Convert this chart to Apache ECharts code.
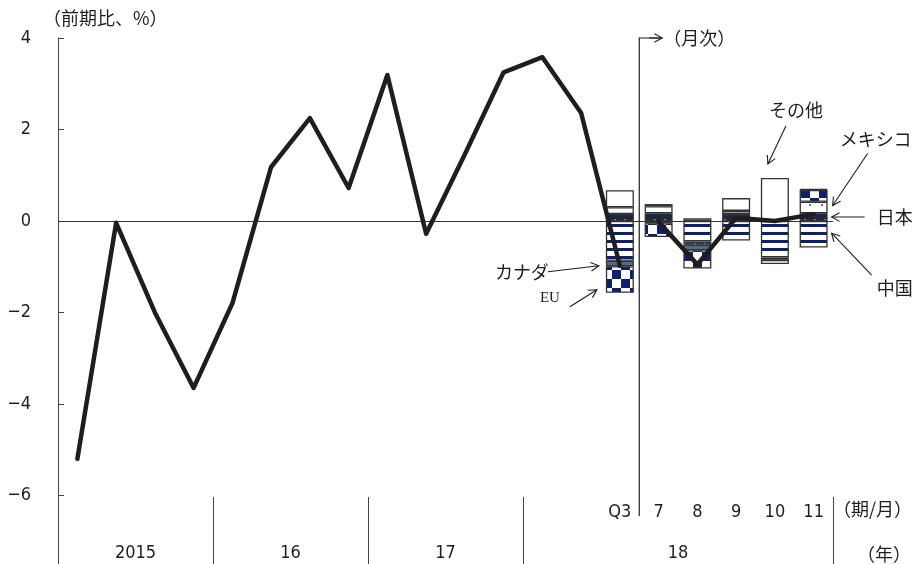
<!DOCTYPE html>
<html><head><meta charset="utf-8">
<script src="https://cdn.jsdelivr.net/npm/echarts@6/dist/echarts.min.js"></script>
<style>html,body{margin:0;padding:0;background:#fff}#c{width:920px;height:564px}</style>
</head><body><div id="c"></div>
<script>
// ---------- data ----------
const categories = ['15Q1','15Q2','15Q3','15Q4','16Q1','16Q2','16Q3','16Q4','17Q1','17Q2','17Q3','17Q4','18Q1','18Q2','18Q3','7','8','9','10','11'];
const years = ['2015','16','17','18'];
const periodsPerYear = [4,4,4,8];
const yTicks = [-6,-4,-2,0,2,4];
const N = null;
const quarterlyTotal = [-5.2,-0.04,-2.0,-3.65,-1.8,1.18,2.25,0.72,3.19,-0.28,1.46,3.25,3.58,2.36,-0.98,N,N,N,N,N];
const monthlyTotal   = [N,N,N,N,N,N,N,N,N,N,N,N,N,N,N,-0.02,-0.95,0.07,0.0,0.15];
const china  = [N,N,N,N,N,N,N,N,N,N,N,N,N,N,-0.87,-0.05,-0.45,-0.43,-0.80,-0.58];
const japan  = [N,N,N,N,N,N,N,N,N,N,N,N,N,N, 0.15, 0.17,-0.07, 0.15,-0.05, 0.17];
const canada = [N,N,N,N,N,N,N,N,N,N,N,N,N,N,-0.12, N,   -0.12, N,    N,    N  ];
const mexico = [N,N,N,N,N,N,N,N,N,N,N,N,N,N, 0.15, 0.15, N,    0.07,-0.09, 0.25];
const eu     = [N,N,N,N,N,N,N,N,N,N,N,N,N,N,-0.58,-0.30,-0.40, N,    N,    0.26];
const others = [N,N,N,N,N,N,N,N,N,N,N,N,N,N, 0.37, 0.05, 0.06, 0.28, 0.94, 0.02];

// ---------- styles ----------
const numFont = "'Liberation Sans Narrow','DejaVu Sans Condensed','Roboto Condensed','Liberation Sans',sans-serif";
const jpFont = "'Noto Sans CJK JP','Noto Sans',sans-serif";
const INK = '#1e1e1e';
const NAVY = '#0c1f72';

function pat(w,h,draw){const c=document.createElement('canvas');c.width=w;c.height=h;const g=c.getContext('2d');draw(g);return {image:c,repeat:'repeat'};}
const stripes = pat(8,8,g=>{g.fillStyle='#fff';g.fillRect(0,0,8,8);g.fillStyle=NAVY;g.fillRect(0,0,8,3);});
const darkDots = pat(10,8,g=>{g.fillStyle='#18283e';g.fillRect(0,0,10,8);g.fillStyle='#8ea6cf';g.fillRect(4,3,2,2);});
const lightDots = pat(12,10,g=>{g.fillStyle='#fff';g.fillRect(0,0,12,10);g.fillStyle='#5a72b8';g.fillRect(5,4,2,2);});
const checker = pat(18,18,g=>{g.fillStyle='#fff';g.fillRect(0,0,18,18);g.fillStyle=NAVY;g.fillRect(0,0,9,9);g.fillRect(9,9,9,9);});

// year axis helpers derived from counts
const yearCenters = [], yearBounds = [];
let acc = 0;
periodsPerYear.forEach(c=>{yearCenters.push(acc + c/2); acc += c; yearBounds.push(acc);});
const yearMap = {}; yearCenters.forEach((v,i)=>yearMap[v]=years[i]);
const lastQuarter = categories.map(c=>c.includes('Q')).lastIndexOf(true);

function bar(name,data,color,extra){
  return Object.assign({name,type:'bar',stack:'total',data,barWidth:28,xAxisIndex:0,
    itemStyle:{color,borderColor:'#333',borderWidth:1.3},emphasis:{disabled:true},z:2},extra||{});
}

const option = {
  animation:false,
  backgroundColor:'#fff',
  grid:{left:58,right:87,top:38,bottom:0,containLabel:false,outerBoundsMode:'none'},
  xAxis:[
    {type:'category',data:categories,position:'bottom',offset:-67,
     axisLine:{show:false,onZero:false},axisTick:{show:false},splitLine:{show:false},
     axisLabel:{interval:0,margin:6,fontSize:18,fontFamily:numFont,color:INK,
       formatter:(v,i)=> i===lastQuarter ? v.slice(2) : (v.includes('Q') ? '' : v)},
     name:'（期/月）',nameLocation:'end',nameGap:0,
     nameTextStyle:{fontFamily:jpFont,fontSize:18,color:INK,verticalAlign:'top',align:'left',padding:[3,0,0,0]}},
    {type:'value',min:0,max:categories.length,position:'bottom',
     axisLine:{show:false,onZero:false},splitLine:{show:false},
     axisTick:{show:true,inside:true,length:67,customValues:yearBounds,lineStyle:{color:'#444',width:1}},
     axisLabel:{inside:true,margin:2,customValues:yearCenters,formatter:v=>yearMap[v]||'',
       fontSize:18,fontFamily:numFont,color:INK},
     name:'（年）',nameLocation:'end',nameGap:24,
     nameTextStyle:{fontFamily:jpFont,fontSize:18,color:INK,verticalAlign:'bottom',align:'left',padding:[0,0,1,0]}}
  ],
  yAxis:{type:'value',min:-7.5,max:4,
    axisLine:{show:true,onZero:false,lineStyle:{color:'#444',width:1}},
    axisTick:{show:true,inside:true,length:6,customValues:yTicks,lineStyle:{color:'#444'}},
    axisLabel:{customValues:yTicks,margin:27,fontSize:18,fontFamily:numFont,color:INK,
      formatter:v=> v<0 ? '\u2212'+(-v) : String(v)},
    splitLine:{show:false}},
  series:[
    bar('中国',china,stripes,{markLine:{silent:true,symbol:'none',label:{show:false},
        lineStyle:{color:'#333',width:1,type:'solid'},data:[{yAxis:0}]}}),
    bar('日本',japan,darkDots),
    bar('カナダ',canada,'#4f6d8a'),
    bar('メキシコ',mexico,lightDots),
    bar('EU',eu,checker),
    bar('その他',others,'#ffffff'),
    {name:'quarterly',type:'line',data:quarterlyTotal,symbol:'none',connectNulls:false,
     lineStyle:{color:INK,width:4.5,join:'round',cap:'round'},z:5,emphasis:{disabled:true}},
    {name:'monthly',type:'line',data:monthlyTotal,symbol:'none',connectNulls:false,
     lineStyle:{color:INK,width:4.5,join:'round',cap:'round'},z:5,emphasis:{disabled:true}}
  ]
};

const chart = echarts.init(document.getElementById('c'),null,{renderer:'canvas'});
chart.setOption(option);

// ---------- annotations anchored to data ----------
function P(xu, v){ // xu in category units (center of cat i = i+0.5)
  return [chart.convertToPixel({xAxisIndex:1},xu), chart.convertToPixel({yAxisIndex:0},v)];
}
const g = [];
const LS = {stroke:INK,lineWidth:1.1};
function arrow(t, tip){
  const dx=tip[0]-t[0], dy=tip[1]-t[1], a=Math.atan2(dy,dx), L=9, w=0.5;
  g.push({type:'line',shape:{x1:t[0],y1:t[1],x2:tip[0],y2:tip[1]},style:LS,z:100,silent:true});
  g.push({type:'polyline',shape:{points:[
    [tip[0]-L*Math.cos(a-w),tip[1]-L*Math.sin(a-w)],tip,
    [tip[0]-L*Math.cos(a+w),tip[1]-L*Math.sin(a+w)]]},style:Object.assign({fill:null},LS),z:100,silent:true});
}
function text(s, c, opts){
  g.push({type:'text',x:c[0],y:c[1],z:100,silent:true,style:Object.assign({text:s,fill:INK,
    font:'18px '+jpFont,align:'center',verticalAlign:'middle'},opts||{})});
}
function add(p,d){return [p[0]+d[0],p[1]+d[1]];}
function note(label, anchor, tipOff, tailOff, textOff, opts){
  const tip = add(anchor, tipOff);
  arrow(add(tip,tailOff), tip);
  text(label, add(tip,textOff), opts);
}
const posTop = i => [japan,canada,mexico,eu,others].reduce((s,a)=>s+(a[i]>0?a[i]:0),0);
const negBottom = i => [china,japan,canada,mexico,eu].reduce((s,a)=>s+(a[i]<0?a[i]:0),0);

note('その他', P(18.5,posTop(18)), [-7,-14], [18,-38], [28,-54]);
note('メキシコ', P(19.5,japan[19]+mexico[19]/2), [19,-2], [35,-52], [43,-66]);
note('日本', P(19.5,japan[19]/2), [18,0], [33,0], [63,0]);
note('中国', P(19.5,china[19]/2), [18,-1], [40,42], [63,55]);
note('カナダ', P(14.5,quarterlyTotal[14]), [-21,0], [-51,6], [-77,6]);
note('EU', P(14.5,negBottom(14)), [-23,-3], [-27,17], [-47,8], {font:'15px "Liberation Serif",serif'});

// monthly divider with arrow
const b0 = P(15,-6.45), b1 = P(15,4);
g.push({type:'polyline',shape:{points:[b0,b1,[b1[0]+22,b1[1]]]},style:Object.assign({fill:null},{stroke:INK,lineWidth:1.2}),z:100,silent:true});
arrow([b1[0]+10,b1[1]],[b1[0]+23,b1[1]]);
text('（月次）',[b1[0]+24,b1[1]],{align:'left'});
// y-axis unit
const yTop = P(0,4);
text('（前期比、%）',[yTop[0]-15,yTop[1]-20],{align:'left'});

chart.setOption({graphic:g});
</script>
</body></html>
